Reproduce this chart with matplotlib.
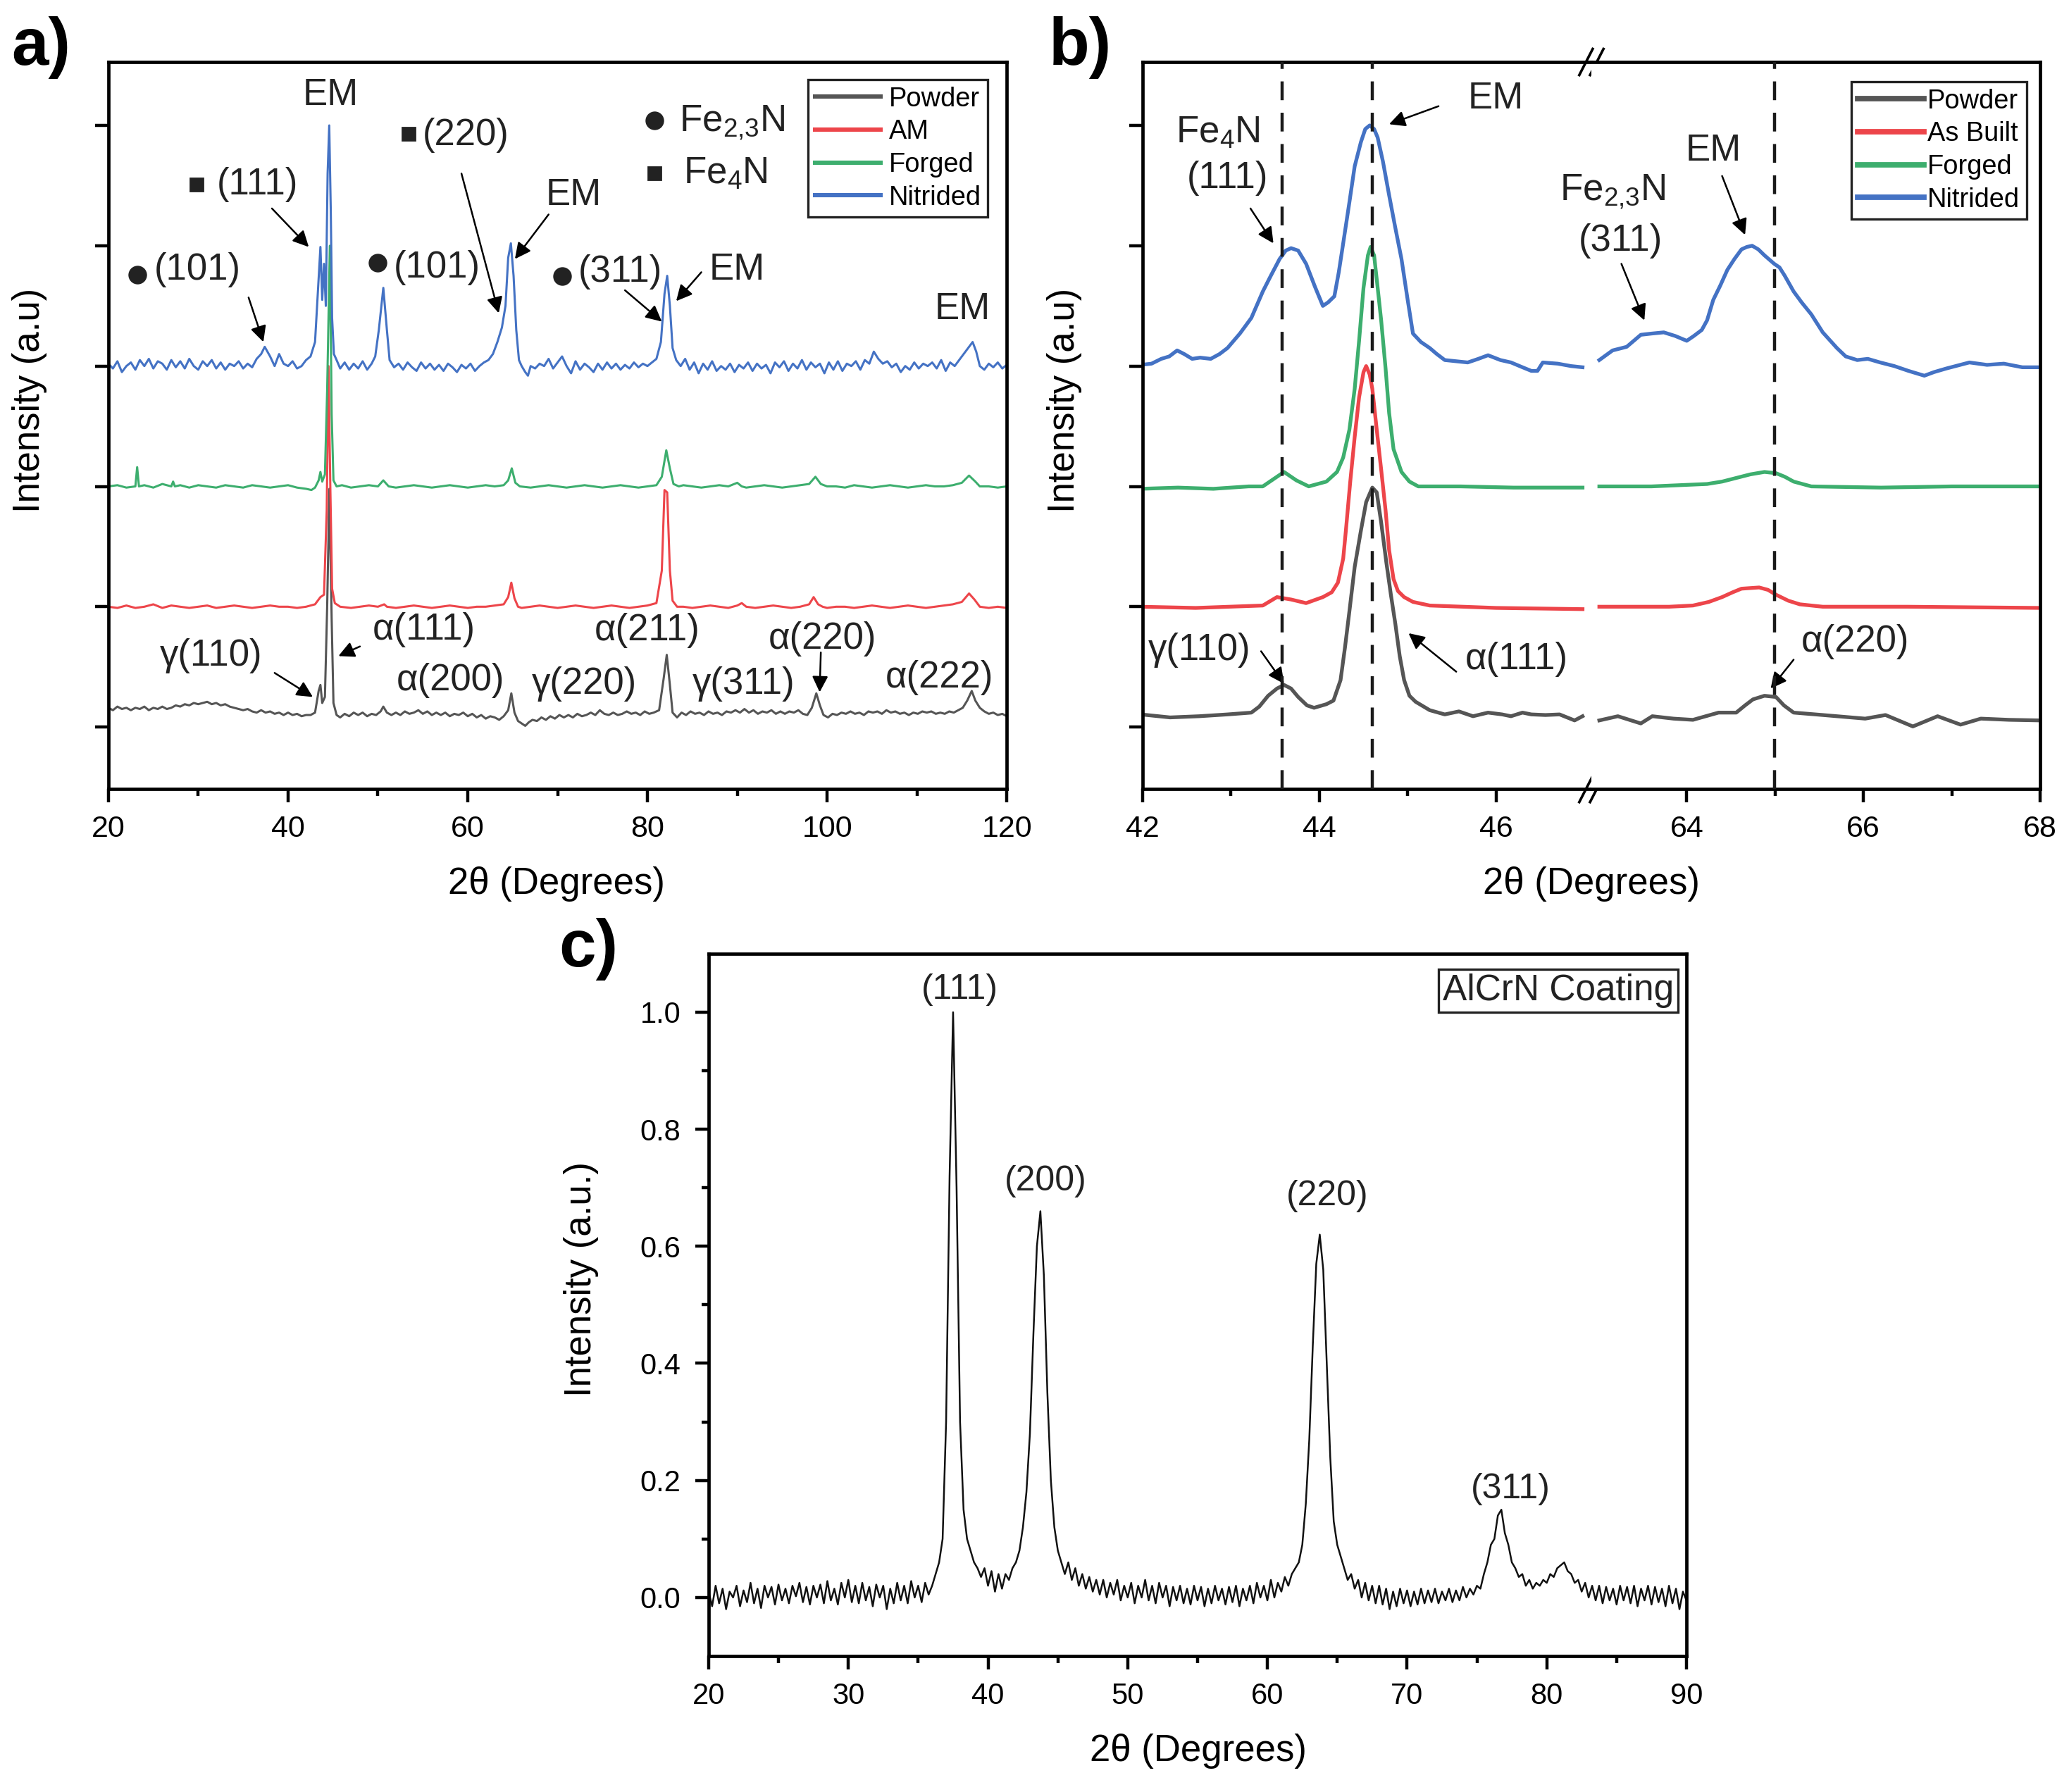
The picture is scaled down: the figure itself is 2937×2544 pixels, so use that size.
import numpy as np
import matplotlib
matplotlib.use("Agg")
import matplotlib.pyplot as plt

plt.rcParams['font.family'] = ['Liberation Sans', 'DejaVu Sans']
plt.rcParams['mathtext.fontset'] = 'custom'
plt.rcParams['mathtext.rm'] = 'Liberation Sans'
plt.rcParams['mathtext.it'] = 'Liberation Sans:italic'
plt.rcParams['axes.linewidth'] = 1.7
for k in ('xtick', 'ytick'):
    plt.rcParams[k + '.direction'] = 'out'
    plt.rcParams[k + '.major.size'] = 6.8
    plt.rcParams[k + '.major.width'] = 1.6
    plt.rcParams[k + '.minor.size'] = 3.5
    plt.rcParams[k + '.minor.width'] = 1.6
    plt.rcParams[k + '.major.pad'] = 6.5

# colours
C_POWDER = '#555555'
C_AM = '#ED454A'
C_FORGED = '#3DAE6E'
C_NITRIDED = '#4472C4'

# ---------------- panel a data (2theta, stacked intensity) ----------------
a_nitrided = [
    (20, 3.02), (20.5, 2.98), (21, 3.04), (21.5, 2.95), (22, 3.0), (22.5, 3.03), (23, 2.97), (23.5, 3.05),
    (24, 3.0), (24.5, 3.06), (25, 2.98), (25.5, 3.04), (26, 3.02), (26.5, 2.97), (27, 3.05), (27.5, 2.99),
    (28, 3.04), (28.5, 2.98), (29, 3.06), (29.5, 3.0), (30, 2.97), (30.5, 3.04), (31, 3.0), (31.5, 3.05),
    (32, 2.98), (32.5, 3.03), (33, 2.97), (33.5, 3.02), (34, 3.0), (34.5, 3.04), (35, 2.98), (35.5, 3.02),
    (36, 2.99), (36.5, 3.06), (37, 3.1), (37.4, 3.16), (38, 3.08), (38.5, 3.0), (39, 3.1), (39.5, 3.02),
    (40, 3.0), (40.5, 3.04), (41, 2.98), (41.5, 3.0), (42, 3.05), (42.5, 3.08), (43.0, 3.2), (43.3, 3.6),
    (43.6, 3.99), (43.8, 3.55), (44.0, 3.85), (44.2, 3.5), (44.4, 4.6), (44.58, 5.0), (44.75, 4.3),
    (44.9, 3.4), (45.1, 3.1), (45.4, 3.05), (45.8, 2.98), (46.3, 3.03), (46.8, 2.97), (47.3, 3.02),
    (47.8, 2.98), (48.3, 3.04), (48.8, 2.97), (49.3, 3.02), (49.7, 3.08), (50.1, 3.3), (50.6, 3.65),
    (51.0, 3.3), (51.3, 3.05), (51.8, 2.99), (52.3, 3.02), (52.8, 2.97), (53.3, 3.03), (53.8, 2.99),
    (54.3, 2.96), (54.8, 3.03), (55.3, 2.98), (55.8, 3.02), (56.3, 2.97), (56.8, 3.01), (57.3, 2.96),
    (57.8, 3.02), (58.3, 2.99), (58.8, 2.95), (59.3, 3.01), (59.8, 2.98), (60.3, 3.02), (60.8, 2.96),
    (61.3, 3.0), (61.8, 3.03), (62.3, 3.05), (62.8, 3.1), (63.3, 3.2), (63.8, 3.32), (64.2, 3.5),
    (64.5, 3.9), (64.8, 4.02), (65.1, 3.75), (65.4, 3.3), (65.7, 3.05), (66.0, 3.0), (66.4, 2.95),
    (66.7, 2.92), (67.0, 3.0), (67.5, 2.98), (68, 3.02), (68.5, 3.0), (69, 3.06), (69.5, 2.98),
    (70, 3.03), (70.5, 3.08), (71, 3.0), (71.5, 2.94), (72, 3.04), (72.5, 2.97), (73, 3.02),
    (73.5, 2.99), (74, 2.95), (74.5, 3.02), (75, 2.97), (75.5, 3.03), (76, 2.98), (76.5, 3.02),
    (77, 2.97), (77.5, 3.01), (78, 2.98), (78.5, 3.03), (79, 2.99), (79.5, 3.02), (80, 3.0),
    (80.5, 3.03), (81.0, 3.06), (81.5, 3.2), (81.9, 3.6), (82.2, 3.75), (82.5, 3.5), (82.8, 3.15),
    (83.2, 3.05), (83.7, 3.0), (84.2, 3.06), (84.7, 2.97), (85.2, 3.03), (85.7, 2.94), (86.2, 3.02),
    (86.7, 2.97), (87.2, 3.04), (87.7, 2.96), (88.2, 3.0), (88.7, 2.97), (89.2, 3.02), (89.7, 2.95),
    (90.2, 3.01), (90.7, 2.98), (91.2, 3.03), (91.7, 2.96), (92.2, 3.02), (92.7, 2.98), (93.2, 3.01),
    (93.7, 2.94), (94.2, 3.03), (94.7, 2.99), (95.2, 3.04), (95.7, 2.96), (96.2, 3.02), (96.7, 2.98),
    (97.2, 3.05), (97.7, 2.97), (98.2, 3.03), (98.7, 2.99), (99.2, 3.02), (99.7, 2.94), (100.2, 3.03),
    (100.7, 2.97), (101.2, 3.04), (101.7, 2.96), (102.2, 3.02), (102.7, 3.0), (103.2, 3.04),
    (103.7, 2.97), (104.2, 3.05), (104.7, 3.02), (105.2, 3.12), (105.7, 3.06), (106.2, 3.02),
    (106.7, 3.04), (107.2, 2.99), (107.7, 3.02), (108.2, 2.95), (108.7, 3.0), (109.2, 2.97),
    (109.7, 3.03), (110.2, 2.98), (110.7, 3.02), (111.2, 3.0), (111.7, 3.03), (112.2, 2.98),
    (112.7, 3.05), (113.2, 2.96), (113.7, 3.03), (114.2, 3.0), (114.7, 3.05), (115.2, 3.1),
    (115.7, 3.15), (116.2, 3.2), (116.6, 3.12), (117.0, 3.0), (117.5, 2.97), (118, 3.02),
    (118.5, 2.99), (119, 3.03), (119.5, 2.98), (120, 3.01),
]

a_forged = [
    (20, 2.0), (21, 2.01), (22, 1.99), (23.0, 2.0), (23.2, 2.16), (23.4, 2.0), (24, 2.01), (25, 1.99),
    (26, 2.02), (27, 2.0), (27.2, 2.04), (27.4, 2.0), (28, 2.01), (29, 1.99), (30, 2.01), (31, 2.0),
    (32, 1.99), (33, 2.01), (34, 2.0), (35, 1.99), (36, 2.01), (37, 2.0), (38, 1.99), (39, 2.0),
    (40, 2.01), (41, 1.99), (42, 1.98), (42.6, 1.97), (43.0, 1.99), (43.4, 2.05), (43.6, 2.12),
    (43.8, 2.04), (44.1, 2.1), (44.35, 2.8), (44.65, 4.0), (44.85, 2.6), (45.05, 2.05), (45.4, 2.0),
    (46, 2.01), (47, 1.99), (48, 2.0), (49, 2.01), (50, 2.0), (50.6, 2.05), (51.2, 2.0), (52, 1.99),
    (53, 2.0), (54, 2.01), (55, 2.0), (56, 1.99), (57, 2.0), (58, 2.01), (59, 2.0), (60, 1.99),
    (61, 2.0), (62, 2.01), (63, 2.0), (64, 2.01), (64.5, 2.05), (64.9, 2.15), (65.3, 2.03),
    (65.8, 2.0), (67, 1.99), (68, 2.0), (69, 2.01), (70, 2.0), (71, 1.99), (72, 2.0), (73, 2.01),
    (74, 2.0), (75, 1.99), (76, 2.0), (77, 2.01), (78, 2.0), (79, 1.99), (80, 2.0), (81, 2.01),
    (81.6, 2.08), (82.1, 2.3), (82.5, 2.15), (82.9, 2.02), (83.5, 2.0), (84, 2.01), (85, 2.0),
    (86, 1.99), (87, 2.0), (88, 2.01), (89, 2.0), (90, 2.03), (90.5, 2.0), (91, 1.99), (92, 2.0),
    (93, 2.01), (94, 2.0), (95, 1.99), (96, 2.0), (97, 2.01), (98, 2.02), (98.7, 2.08), (99.3, 2.02),
    (100, 2.0), (101, 2.0), (102, 1.99), (103, 2.01), (104, 2.0), (105, 1.99), (106, 2.0), (107, 2.01),
    (108, 2.0), (109, 1.99), (110, 2.0), (111, 2.01), (112, 2.0), (113, 2.0), (114, 2.01),
    (115, 2.03), (115.8, 2.09), (116.5, 2.04), (117, 2.0), (118, 2.0), (119, 1.99), (120, 2.0),
]

a_am = [
    (20, 1.0), (21, 0.99), (22, 1.01), (23, 0.99), (24, 1.0), (25, 1.02), (26, 0.99), (27, 1.01),
    (28, 1.0), (29, 0.99), (30, 1.0), (31, 1.01), (32, 0.99), (33, 1.0), (34, 1.01), (35, 1.0),
    (36, 0.99), (37, 1.0), (38, 1.01), (39, 1.0), (40, 1.0), (41, 0.99), (42, 1.0), (43, 1.02),
    (43.6, 1.08), (44.0, 1.1), (44.3, 1.8), (44.5, 3.0), (44.7, 2.0), (44.9, 1.15), (45.2, 1.03),
    (45.8, 1.0), (47, 0.99), (48, 1.0), (49, 1.01), (50, 1.0), (50.7, 1.02), (51, 1.0), (52, 0.99),
    (53, 1.0), (54, 1.01), (55, 1.0), (56, 0.99), (57, 1.0), (58, 1.01), (59, 1.0), (60, 0.99),
    (61, 1.0), (62, 1.0), (63, 1.01), (64, 1.02), (64.5, 1.08), (64.85, 1.2), (65.2, 1.07),
    (65.6, 1.0), (66, 0.99), (67, 1.0), (68, 1.01), (69, 1.0), (70, 0.99), (71, 1.0), (72, 1.01),
    (73, 1.0), (74, 0.99), (75, 1.0), (76, 1.01), (77, 1.0), (78, 0.99), (79, 1.0), (80, 1.01),
    (81, 1.03), (81.6, 1.3), (81.9, 1.97), (82.2, 1.95), (82.5, 1.3), (82.8, 1.05), (83.3, 1.0),
    (84, 1.0), (85, 0.99), (86, 1.0), (87, 1.01), (88, 1.0), (89, 0.99), (90, 1.01), (90.5, 1.03),
    (91, 1.0), (92, 0.99), (93, 1.0), (94, 1.01), (95, 1.0), (96, 0.99), (97, 1.0), (98, 1.02),
    (98.5, 1.08), (99.0, 1.02), (99.5, 1.0), (100, 0.99), (101, 1.0), (102, 1.0), (103, 0.99),
    (104, 1.0), (105, 1.01), (106, 1.0), (107, 0.99), (108, 1.0), (109, 1.01), (110, 1.0),
    (111, 0.99), (112, 1.0), (113, 1.01), (114, 1.02), (115, 1.04), (115.8, 1.11), (116.4, 1.06),
    (117, 1.0), (118, 0.99), (119, 1.0), (120, 0.99),
]

a_powder = [
    (20, 0.16), (20.5, 0.14), (21, 0.17), (21.5, 0.15), (22, 0.16), (22.5, 0.14), (23, 0.16),
    (23.5, 0.15), (24, 0.17), (24.5, 0.14), (25, 0.16), (25.5, 0.15), (26, 0.17), (26.5, 0.15),
    (27, 0.16), (27.5, 0.18), (28, 0.17), (28.5, 0.19), (29, 0.18), (29.5, 0.2), (30, 0.19),
    (30.5, 0.2), (31, 0.21), (31.5, 0.19), (32, 0.2), (32.5, 0.18), (33, 0.19), (33.5, 0.17),
    (34, 0.16), (34.5, 0.15), (35, 0.14), (35.5, 0.15), (36, 0.13), (36.5, 0.12), (37, 0.14),
    (37.5, 0.12), (38, 0.13), (38.5, 0.11), (39, 0.12), (39.5, 0.1), (40, 0.12), (40.5, 0.1),
    (41, 0.11), (41.5, 0.09), (42, 0.1), (42.5, 0.1), (43.0, 0.12), (43.4, 0.3), (43.6, 0.35),
    (43.8, 0.2), (44.1, 0.25), (44.35, 1.0), (44.6, 1.98), (44.85, 0.9), (45.05, 0.2), (45.4, 0.1),
    (45.8, 0.08), (46.3, 0.11), (46.8, 0.09), (47.3, 0.12), (47.8, 0.1), (48.3, 0.12), (48.8, 0.09),
    (49.3, 0.11), (49.8, 0.1), (50.3, 0.13), (50.6, 0.17), (51.0, 0.12), (51.5, 0.1), (52, 0.12),
    (52.5, 0.1), (53, 0.13), (53.5, 0.11), (54, 0.12), (54.5, 0.14), (55, 0.11), (55.5, 0.13),
    (56, 0.1), (56.5, 0.12), (57, 0.1), (57.5, 0.12), (58, 0.09), (58.5, 0.11), (59, 0.1),
    (59.5, 0.12), (60, 0.09), (60.5, 0.11), (61, 0.08), (61.5, 0.1), (62, 0.07), (62.5, 0.09),
    (63, 0.08), (63.5, 0.06), (64, 0.09), (64.5, 0.14), (64.85, 0.28), (65.2, 0.12), (65.6, 0.05),
    (66.0, 0.03), (66.4, 0.01), (66.8, 0.04), (67.2, 0.06), (67.7, 0.05), (68.2, 0.08), (68.7, 0.06),
    (69.2, 0.09), (69.7, 0.07), (70.2, 0.1), (70.7, 0.08), (71.2, 0.1), (71.7, 0.08), (72.2, 0.11),
    (72.7, 0.09), (73.2, 0.1), (73.7, 0.12), (74.2, 0.1), (74.7, 0.14), (75.2, 0.11), (75.7, 0.1),
    (76.2, 0.12), (76.7, 0.1), (77.2, 0.11), (77.7, 0.13), (78.2, 0.11), (78.7, 0.12), (79.2, 0.1),
    (79.7, 0.13), (80.2, 0.11), (80.7, 0.12), (81.3, 0.14), (81.8, 0.4), (82.15, 0.6), (82.5, 0.35),
    (82.8, 0.12), (83.3, 0.08), (83.8, 0.12), (84.3, 0.1), (84.8, 0.13), (85.3, 0.11), (85.8, 0.12),
    (86.3, 0.1), (86.8, 0.13), (87.3, 0.11), (87.8, 0.12), (88.3, 0.1), (88.8, 0.13), (89.3, 0.12),
    (89.8, 0.14), (90.3, 0.12), (90.8, 0.15), (91.3, 0.12), (91.8, 0.14), (92.3, 0.11), (92.8, 0.13),
    (93.3, 0.12), (93.8, 0.14), (94.3, 0.11), (94.8, 0.13), (95.3, 0.11), (95.8, 0.13), (96.3, 0.12),
    (96.8, 0.14), (97.3, 0.11), (97.8, 0.1), (98.3, 0.16), (98.8, 0.28), (99.2, 0.18), (99.6, 0.1),
    (100.1, 0.08), (100.6, 0.11), (101.1, 0.1), (101.6, 0.12), (102.1, 0.11), (102.6, 0.13),
    (103.1, 0.11), (103.6, 0.12), (104.1, 0.1), (104.6, 0.13), (105.1, 0.12), (105.6, 0.13),
    (106.1, 0.11), (106.6, 0.14), (107.1, 0.12), (107.6, 0.13), (108.1, 0.11), (108.6, 0.12),
    (109.1, 0.1), (109.6, 0.12), (110.1, 0.11), (110.6, 0.13), (111.1, 0.12), (111.6, 0.13),
    (112.1, 0.11), (112.6, 0.12), (113.1, 0.11), (113.6, 0.13), (114.1, 0.12), (114.6, 0.14),
    (115.1, 0.16), (115.6, 0.22), (116.1, 0.3), (116.5, 0.22), (117, 0.16), (117.5, 0.13),
    (118, 0.11), (118.5, 0.12), (119, 0.1), (119.5, 0.11), (120, 0.09),
]

# ---------------- panel b data (zoom on 42-47 and 63-68) ----------------
b_nitrided_lo = [
    (41.98, 3.01), (42.10, 3.02), (42.21, 3.06), (42.30, 3.08), (42.39, 3.13), (42.47, 3.10),
    (42.56, 3.06), (42.65, 3.07), (42.77, 3.06), (42.87, 3.10), (42.96, 3.15), (43.10, 3.27),
    (43.23, 3.40), (43.36, 3.62), (43.45, 3.75), (43.55, 3.89), (43.62, 3.96), (43.68, 3.98),
    (43.76, 3.96), (43.85, 3.85), (43.95, 3.66), (44.04, 3.50), (44.10, 3.53), (44.17, 3.58),
    (44.22, 3.78), (44.27, 4.02), (44.34, 4.36), (44.40, 4.66), (44.47, 4.86), (44.52, 4.97),
    (44.57, 5.00), (44.62, 4.97), (44.66, 4.90), (44.72, 4.70), (44.79, 4.42), (44.86, 4.15),
    (44.93, 3.89), (45.00, 3.55), (45.06, 3.27), (45.15, 3.20), (45.25, 3.15), (45.33, 3.10),
    (45.42, 3.05), (45.55, 3.04), (45.68, 3.03), (45.80, 3.06), (45.91, 3.09), (46.05, 3.05),
    (46.17, 3.03), (46.30, 2.99), (46.40, 2.96), (46.47, 2.96), (46.53, 3.03), (46.70, 3.02),
    (46.85, 3.00), (46.98, 2.99),
]
b_nitrided_hi = [
    (63.01, 3.05), (63.16, 3.13), (63.32, 3.16), (63.48, 3.26), (63.60, 3.27), (63.74, 3.28),
    (63.87, 3.25), (64.00, 3.21), (64.08, 3.25), (64.17, 3.30), (64.23, 3.38), (64.30, 3.55),
    (64.38, 3.67), (64.46, 3.80), (64.54, 3.89), (64.62, 3.97), (64.68, 3.99), (64.74, 4.00),
    (64.81, 3.97), (64.88, 3.92), (64.99, 3.85), (65.05, 3.82), (65.11, 3.75), (65.21, 3.62),
    (65.30, 3.53), (65.41, 3.43), (65.54, 3.28), (65.70, 3.15), (65.80, 3.08), (65.93, 3.05),
    (66.05, 3.06), (66.19, 3.03), (66.35, 3.00), (66.51, 2.96), (66.69, 2.92), (66.80, 2.95),
    (66.94, 2.98), (67.20, 3.03), (67.40, 3.01), (67.59, 3.02), (67.80, 2.99), (68.01, 2.99),
]
b_forged_lo = [
    (41.98, 1.98), (42.40, 1.99), (42.80, 1.98), (43.20, 2.0), (43.36, 2.0), (43.48, 2.06),
    (43.60, 2.12), (43.74, 2.05), (43.88, 2.0), (44.08, 2.04), (44.20, 2.12), (44.27, 2.24),
    (44.34, 2.47), (44.40, 2.81), (44.45, 3.21), (44.50, 3.65), (44.55, 3.92), (44.58, 3.99),
    (44.62, 3.92), (44.65, 3.72), (44.70, 3.38), (44.75, 2.98), (44.79, 2.61), (44.84, 2.31),
    (44.93, 2.12), (45.02, 2.04), (45.12, 2.0), (45.60, 2.0), (46.20, 1.99), (46.98, 1.99),
]
b_forged_hi = [
    (63.01, 2.0), (63.60, 2.0), (64.23, 2.02), (64.40, 2.04), (64.56, 2.07), (64.72, 2.10),
    (64.88, 2.12), (65.01, 2.11), (65.11, 2.08), (65.21, 2.04), (65.41, 2.0), (66.20, 1.99),
    (67.00, 2.0), (68.01, 2.0),
]
b_am_lo = [
    (41.98, 1.0), (42.60, 0.99), (43.36, 1.01), (43.52, 1.08), (43.68, 1.06), (43.85, 1.03),
    (44.04, 1.08), (44.14, 1.12), (44.21, 1.20), (44.27, 1.40), (44.30, 1.63), (44.35, 2.04),
    (44.40, 2.41), (44.45, 2.74), (44.50, 2.95), (44.53, 3.0), (44.57, 2.93), (44.60, 2.81),
    (44.65, 2.47), (44.70, 2.14), (44.75, 1.80), (44.79, 1.47), (44.84, 1.23), (44.89, 1.13),
    (44.96, 1.08), (45.06, 1.04), (45.25, 1.01), (46.00, 0.99), (46.98, 0.98),
]
b_am_hi = [
    (63.01, 1.0), (63.80, 1.0), (64.07, 1.01), (64.25, 1.04), (64.40, 1.08), (64.52, 1.12),
    (64.62, 1.15), (64.82, 1.16), (64.92, 1.14), (65.01, 1.10), (65.15, 1.05), (65.28, 1.02),
    (65.54, 1.0), (66.50, 1.0), (68.01, 0.99),
]
b_powder_lo = [
    (41.98, 0.105), (42.31, 0.08), (42.64, 0.09), (42.96, 0.105), (43.23, 0.12), (43.32, 0.17),
    (43.42, 0.26), (43.52, 0.32), (43.60, 0.35), (43.68, 0.32), (43.76, 0.25), (43.86, 0.18),
    (43.94, 0.16), (44.08, 0.19), (44.16, 0.22), (44.24, 0.39), (44.29, 0.66), (44.34, 0.96),
    (44.40, 1.33), (44.47, 1.63), (44.53, 1.87), (44.60, 1.99), (44.65, 1.95), (44.70, 1.70),
    (44.76, 1.36), (44.81, 1.10), (44.86, 0.86), (44.91, 0.59), (44.96, 0.39), (45.02, 0.26),
    (45.09, 0.21), (45.25, 0.14), (45.42, 0.105), (45.58, 0.13), (45.74, 0.09), (45.91, 0.12),
    (46.07, 0.105), (46.17, 0.09), (46.30, 0.12), (46.40, 0.105), (46.56, 0.10), (46.72, 0.105),
    (46.89, 0.055), (46.98, 0.09),
]
b_powder_hi = [
    (63.01, 0.055), (63.22, 0.09), (63.48, 0.03), (63.61, 0.09), (63.85, 0.07), (64.07, 0.06),
    (64.36, 0.12), (64.56, 0.12), (64.66, 0.18), (64.75, 0.23), (64.88, 0.26), (65.01, 0.25),
    (65.10, 0.18), (65.21, 0.12), (65.54, 0.10), (66.02, 0.07), (66.25, 0.10), (66.56, 0.005),
    (66.84, 0.09), (67.10, 0.02), (67.33, 0.07), (67.65, 0.06), (68.01, 0.055),
]
b_dashed = [43.575, 44.6, 64.99]

# ---------------- panel c data (AlCrN coating, 0.25 deg scan step from 20) ----------------
c_start, c_step = 20.0, 0.25
c_intensity = [
    0.010, -0.015, 0.020, -0.010, 0.015, -0.020, 0.010, 0.000,   # 20
    0.020, -0.015, 0.012, -0.008, 0.025, -0.010, 0.015, -0.018,  # 22
    0.020, 0.000, 0.018, -0.012, 0.022, -0.005, 0.015, -0.010,   # 24
    0.020, 0.002, 0.025, -0.008, 0.018, -0.012, 0.020, 0.000,    # 26
    0.022, -0.010, 0.028, -0.005, 0.015, -0.012, 0.025, 0.000,   # 28
    0.030, -0.008, 0.020, -0.010, 0.025, -0.005, 0.018, -0.015,  # 30
    0.022, 0.000, 0.020, -0.020, 0.015, -0.010, 0.025, -0.005,   # 32
    0.020, -0.010, 0.028, 0.000, 0.020, -0.008, 0.025, 0.005,    # 34
    0.020, 0.040, 0.060, 0.100, 0.300, 0.720, 1.000, 0.700,      # 36
    0.300, 0.150, 0.100, 0.080, 0.060, 0.050, 0.035, 0.050,      # 38
    0.020, 0.045, 0.010, 0.040, 0.015, 0.040, 0.030, 0.050,      # 40
    0.060, 0.080, 0.120, 0.180, 0.280, 0.450, 0.600, 0.660,      # 42
    0.550, 0.350, 0.200, 0.120, 0.080, 0.060, 0.040, 0.060,      # 44
    0.030, 0.050, 0.020, 0.040, 0.015, 0.035, 0.010, 0.030,      # 46
    0.005, 0.030, 0.000, 0.025, 0.005, 0.030, -0.005, 0.020,     # 48
    0.000, 0.025, -0.010, 0.020, 0.000, 0.030, -0.005, 0.020,    # 50
    -0.010, 0.025, 0.000, 0.020, -0.015, 0.018, -0.005, 0.020,   # 52
    -0.010, 0.015, -0.012, 0.020, -0.005, 0.018, -0.015, 0.015,  # 54
    -0.010, 0.020, -0.005, 0.015, -0.012, 0.018, -0.008, 0.020,  # 56
    -0.015, 0.015, -0.005, 0.020, -0.010, 0.025, 0.000, 0.020,   # 58
    -0.005, 0.030, 0.000, 0.025, 0.010, 0.035, 0.020, 0.040,     # 60
    0.050, 0.060, 0.090, 0.160, 0.270, 0.430, 0.570, 0.620,      # 62
    0.560, 0.400, 0.240, 0.130, 0.090, 0.070, 0.050, 0.030,      # 64
    0.040, 0.015, 0.030, 0.000, 0.025, -0.005, 0.020, -0.010,    # 66
    0.020, -0.012, 0.015, -0.020, 0.010, -0.015, 0.015, -0.010,  # 68
    0.012, -0.015, 0.010, -0.012, 0.015, -0.010, 0.012, -0.008,  # 70
    0.015, -0.010, 0.010, -0.005, 0.015, -0.008, 0.012, -0.005,  # 72
    0.018, 0.000, 0.015, 0.005, 0.020, 0.015, 0.040, 0.060,      # 74
    0.090, 0.100, 0.140, 0.150, 0.110, 0.090, 0.060, 0.050,      # 76
    0.035, 0.040, 0.020, 0.030, 0.015, 0.025, 0.020, 0.030,      # 78
    0.025, 0.040, 0.035, 0.050, 0.055, 0.060, 0.045, 0.040,      # 80
    0.025, 0.030, 0.010, 0.025, 0.000, 0.020, -0.005, 0.020,     # 82
    -0.010, 0.018, -0.005, 0.015, -0.012, 0.020, -0.005, 0.018,  # 84
    -0.010, 0.020, -0.015, 0.015, -0.005, 0.020, -0.012, 0.018,  # 86
    -0.008, 0.015, -0.015, 0.020, -0.010, 0.015, -0.020, 0.010,  # 88
    -0.005,                                                      # 90
]
c_peak_labels = ['(111)', '(200)', '(220)', '(311)']
c_label_pos = [(38.0, 1.038), (44.1, 0.711), (64.3, 0.686), (77.4, 0.185)]


def xy(pairs):
    arr = np.array(pairs, dtype=float)
    return arr[:, 0], arr[:, 1]


ARROW = dict(arrowstyle='-|>', color='black', lw=0.9, mutation_scale=17,
             shrinkA=0, shrinkB=0)


def arrow(ax, start, tip):
    ax.annotate('', xy=tip, xytext=start, arrowprops=ARROW, annotation_clip=False)


def label(ax, s, pos, size=19, ha='center'):
    ax.text(pos[0], pos[1], s, fontsize=size, ha=ha, va='center', color='#222222')


FE23N = 'Fe$_{2{,}3}$N'
FE4N = 'Fe$_{4}$N'

fig = plt.figure(figsize=(2937 / 200, 2544 / 200), dpi=200)

# ============================ panel a ============================
ax = fig.add_axes([0.0524, 0.5597, 0.4342, 0.4057])
for data, col, name in [(a_powder, C_POWDER, 'Powder'), (a_am, C_AM, 'AM'),
                        (a_forged, C_FORGED, 'Forged'), (a_nitrided, C_NITRIDED, 'Nitrided')]:
    x, y = xy(data)
    ax.plot(x, y, color=col, lw=1.1, label=name)
ax.set_xlim(20, 120)
ax.set_ylim(-0.515, 5.527)
ax.set_xticks([20, 40, 60, 80, 100, 120])
ax.set_xticks([30, 50, 70, 90, 110], minor=True)
ax.set_yticks(range(6))
ax.set_yticklabels([])
ax.tick_params(labelsize=15.5, top=False, right=False)
ax.set_xlabel('2θ (Degrees)', fontsize=19)
ax.xaxis.set_label_coords(0.499, -0.106)
ax.set_ylabel('Intensity (a.u)', fontsize=19)
ax.yaxis.set_label_coords(-0.068, 0.535)
leg = ax.legend(loc='upper right', bbox_to_anchor=(1 - 27 / 1275, 1 - 25 / 1032), borderaxespad=0,
                fontsize=13.7, handlelength=2.45, handletextpad=0.3, labelspacing=0.28,
                borderpad=0.25, fancybox=False, edgecolor='#222222', framealpha=1)
leg.get_frame().set_linewidth(1.2)
for h in leg.get_lines():
    h.set_linewidth(2.2)

label(ax, 'EM', (44.7, 5.25))
ax.plot(29.8, 4.51, 's', color='#222222', ms=6.5, clip_on=False)
label(ax, '(111)', (36.6, 4.51))
arrow(ax, (38.2, 4.31), (42.3, 3.99))
ax.plot(23.2, 3.76, 'o', color='#222222', ms=8.5, clip_on=False)
label(ax, '(101)', (29.9, 3.80))
arrow(ax, (35.6, 3.57), (37.25, 3.2))
ax.plot(49.95, 3.86, 'o', color='#222222', ms=8.5)
label(ax, '(101)', (56.6, 3.82))
ax.plot(53.4, 4.93, 's', color='#222222', ms=6.5)
label(ax, '(220)', (59.8, 4.92))
arrow(ax, (59.3, 4.6), (63.45, 3.44))
label(ax, 'EM', (71.8, 4.42))
arrow(ax, (69.0, 4.26), (65.25, 3.89))
ax.plot(70.5, 3.75, 'o', color='#222222', ms=8.5)
label(ax, '(311)', (77.0, 3.78))
arrow(ax, (77.5, 3.63), (81.6, 3.37))
label(ax, 'EM', (90.0, 3.80))
arrow(ax, (86.0, 3.78), (83.2, 3.54))
label(ax, 'EM', (115.1, 3.47))
ax.plot(80.8, 5.04, 'o', color='#222222', ms=8.5)
label(ax, FE23N, (83.5, 5.02), ha='left')
ax.plot(80.8, 4.6, 's', color='#222222', ms=6.5)
label(ax, FE4N, (84.0, 4.6), ha='left')
label(ax, 'γ(110)', (31.4, 0.59))
arrow(ax, (38.5, 0.45), (42.75, 0.25))
label(ax, 'α(111)', (55.1, 0.81))
arrow(ax, (48.0, 0.67), (45.6, 0.59))
label(ax, 'α(200)', (58.1, 0.39))
label(ax, 'γ(220)', (73.0, 0.36))
label(ax, 'α(211)', (80.0, 0.80))
label(ax, 'γ(311)', (90.7, 0.36))
label(ax, 'α(220)', (99.5, 0.73))
arrow(ax, (99.3, 0.62), (99.17, 0.29))
label(ax, 'α(222)', (112.5, 0.41))

# ============================ panel b ============================
bw = 0.4337 / 2
axl = fig.add_axes([0.5523, 0.5597, bw, 0.4057])
axr = fig.add_axes([0.5523 + bw, 0.5597, bw, 0.4057])
series_b = [(b_powder_lo, b_powder_hi, C_POWDER, 'Powder'), (b_am_lo, b_am_hi, C_AM, 'As Built'),
            (b_forged_lo, b_forged_hi, C_FORGED, 'Forged'),
            (b_nitrided_lo, b_nitrided_hi, C_NITRIDED, 'Nitrided')]
for lo, hi, col, name in series_b:
    x, y = xy(lo)
    axl.plot(x, y, color=col, lw=1.9)
    x, y = xy(hi)
    axr.plot(x, y, color=col, lw=1.9, label=name)
for a_ in (axl, axr):
    a_.set_ylim(-0.515, 5.527)
    a_.tick_params(labelsize=15.5, top=False, right=False)
axl.set_xlim(42, 47.08)
axr.set_xlim(62.92, 68)
axl.set_xticks([42, 44, 46])
axl.set_xticks([43, 45], minor=True)
axr.set_xticks([64, 66, 68])
axr.set_xticks([65, 67], minor=True)
axl.set_yticks(range(6))
axl.set_yticklabels([])
axr.set_yticks([])
axl.spines['right'].set_visible(False)
axr.spines['left'].set_visible(False)
for xv in b_dashed:
    tgt = axl if xv < 50 else axr
    tgt.axvline(xv, color='#1a1a1a', lw=1.6, ls=(0, (6, 4)), zorder=5)
axl.set_ylabel('Intensity (a.u)', fontsize=19)
axl.yaxis.set_label_coords(-0.135, 0.535)
fig.text(0.769, 0.5067, '2θ (Degrees)', fontsize=19, ha='center', va='center')
# axis break marks
for yb in (0.0, 1.0):
    for off in (-0.012, 0.012):
        axl.plot([1 + off - 0.015, 1 + off + 0.015], [yb - 0.018, yb + 0.018],
                 transform=axl.transAxes, color='black', lw=1.3, clip_on=False, zorder=6)
legb = axr.legend(loc='upper right', bbox_to_anchor=(1 - 19 / 637, 1 - 28 / 1032), borderaxespad=0,
                  fontsize=13.7, handlelength=2.45, handletextpad=0.15, labelspacing=0.28,
                  borderpad=0.25, fancybox=False, edgecolor='#222222', framealpha=1)
legb.get_frame().set_linewidth(1.2)
for h in legb.get_lines():
    h.set_linewidth(2.8)

label(axl, FE4N, (42.85, 4.94))
label(axl, '(111)', (42.96, 4.56))
arrow(axl, (43.22, 4.31), (43.48, 4.02))
label(axl, 'EM', (46.0, 5.22))
arrow(axl, (45.35, 5.16), (44.79, 5.01))
label(axl, 'γ(110)', (42.64, 0.64))
arrow(axl, (43.34, 0.63), (43.6, 0.36))
label(axl, 'α(111)', (46.23, 0.56))
arrow(axl, (45.55, 0.46), (45.01, 0.78))
label(axr, 'EM', (64.3, 4.79))
arrow(axr, (64.4, 4.58), (64.66, 4.09))
label(axr, FE23N, (63.16, 4.45))
label(axr, '(311)', (63.25, 4.04))
arrow(axr, (63.26, 3.85), (63.52, 3.38))
label(axr, 'α(220)', (65.91, 0.71))
arrow(axr, (65.21, 0.56), (64.95, 0.32))

# ============================ panel c ============================
axc = fig.add_axes([0.3425, 0.0759, 0.4726, 0.3919])
c_y = np.array(c_intensity)
c_x = c_start + c_step * np.arange(len(c_y))
axc.plot(c_x, c_y, color='#111111', lw=0.9)
axc.set_xlim(20, 90)
axc.set_ylim(-0.1, 1.1)
axc.set_xticks(np.arange(20, 91, 10))
axc.set_xticks(np.arange(25, 90, 10), minor=True)
axc.set_yticks([0.0, 0.2, 0.4, 0.6, 0.8, 1.0])
axc.set_yticks([0.1, 0.3, 0.5, 0.7, 0.9], minor=True)
axc.set_yticklabels(['0.0', '0.2', '0.4', '0.6', '0.8', '1.0'])
axc.tick_params(labelsize=15, top=False, right=False)
axc.tick_params(axis='y', pad=7.5)
axc.set_xlabel('2θ (Degrees)', fontsize=19)
axc.xaxis.set_label_coords(0.5007, -0.110)
axc.set_ylabel('Intensity (a.u.)', fontsize=19)
axc.yaxis.set_label_coords(-0.112, 0.536)
for s, p in zip(c_peak_labels, c_label_pos):
    label(axc, s, p, size=18)
axc.text(0.869, 0.947, 'AlCrN Coating', transform=axc.transAxes, fontsize=18.5,
         ha='center', va='center', color='#222222',
         bbox=dict(boxstyle='square,pad=0.12', fc='white', ec='#222222', lw=1.2))

# panel letters
fig.text(0.0055, 0.991, 'a)', fontsize=34, fontweight='bold', ha='left', va='top')
fig.text(0.507, 0.991, 'b)', fontsize=34, fontweight='bold', ha='left', va='top')
fig.text(0.270, 0.488, 'c)', fontsize=34, fontweight='bold', ha='left', va='top')

fig.savefig('out.png', dpi=200)
